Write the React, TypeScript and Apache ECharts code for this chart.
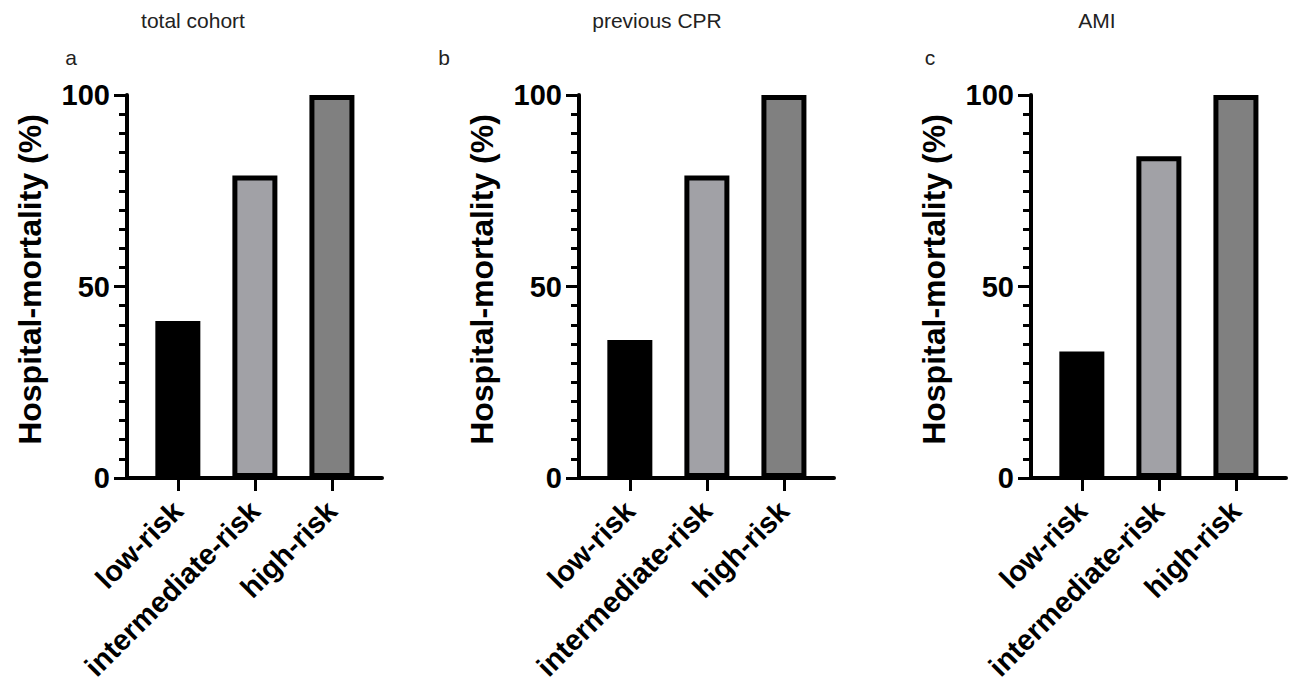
import React, { useEffect, useRef } from "react";
import * as echarts from "echarts";

const categories = ["low-risk", "intermediate-risk", "high-risk"];
const panelTitles = ["total cohort", "previous CPR", "AMI"];
const panelLetters = ["a", "b", "c"];
const totalCohort = [41, 79, 100];
const previousCPR = [36, 79, 100];
const ami = [33, 84, 100];
const yTickValues = [0, 50, 100];
const barColors = ["#000000", "#a1a1a6", "#808080"];
const yAxisTitle = "Hospital-mortality (%)";

const panelValues = [totalCohort, previousCPR, ami];

export default function App() {
  const ref = useRef<HTMLDivElement>(null);

  useEffect(() => {
    if (!ref.current) return;
    const chart = echarts.init(ref.current, undefined, { renderer: "svg" });
    const font = "Liberation Sans, Arial, Helvetica, sans-serif";
    const axisLeft = [127, 579, 1031];
    const titleX = [193, 657, 1097];
    const letterX = [71, 444, 930];

    const grids = panelValues.map((_, i) => ({
      left: axisLeft[i],
      top: 95,
      width: 255,
      height: 383,
      containLabel: false,
      outerBoundsMode: "none",
    }));

    const xAxes = panelValues.map((_, i) => ({
      type: "value",
      gridIndex: i,
      min: 0.34,
      max: 3.65,
      axisLine: { show: true, onZero: false, lineStyle: { color: "#000", width: 4 } },
      axisTick: {
        show: true,
        customValues: categories.map((_, k) => k + 1),
        length: 13,
        lineStyle: { color: "#000", width: 3 },
      },
      axisLabel: {
        show: true,
        customValues: categories.map((_, k) => k + 1),
        formatter: (v: number) => categories[Math.round(v) - 1] ?? "",
        rotate: 45,
        margin: 28,
        color: "#000",
        fontFamily: font,
        fontWeight: "bold",
        fontSize: 29,
      },
      splitLine: { show: false },
    }));

    const yAxes = panelValues.map((_, i) => ({
      type: "value",
      gridIndex: i,
      min: yTickValues[0],
      max: yTickValues[yTickValues.length - 1],
      interval: yTickValues[1] - yTickValues[0],
      name: yAxisTitle,
      nameLocation: "middle",
      nameRotate: 90,
      nameGap: 81,
      nameTextStyle: {
        color: "#000",
        fontFamily: font,
        fontWeight: "bold",
        fontSize: 32,
        padding: [0, 0, 0, 14],
      },
      axisLine: { show: true, lineStyle: { color: "#000", width: 4 } },
      axisTick: { show: true, length: 13, lineStyle: { color: "#000", width: 3 } },
      minorTick: { show: true, splitNumber: 10, length: 8, lineStyle: { color: "#000", width: 3 } },
      axisLabel: {
        show: true,
        margin: 17,
        color: "#000",
        fontFamily: font,
        fontWeight: "bold",
        fontSize: 29,
      },
      splitLine: { show: false },
      minorSplitLine: { show: false },
    }));

    const series = panelValues.map((vals, i) => ({
      type: "bar",
      xAxisIndex: i,
      yAxisIndex: i,
      barWidth: 45,
      data: vals.map((v, k) => ({
        value: [k + 1, v],
        itemStyle: { color: barColors[k], borderColor: "#000", borderWidth: 5 },
      })),
    }));

    const graphics: any[] = [];
    panelTitles.forEach((t, i) => {
      graphics.push({
        type: "text",
        x: titleX[i],
        y: 20.5,
        style: {
          text: t,
          fill: "#222",
          font: `21px ${font}`,
          textAlign: "center",
          textVerticalAlign: "middle",
        },
      });
      graphics.push({
        type: "text",
        x: letterX[i],
        y: 57.5,
        style: {
          text: panelLetters[i],
          fill: "#222",
          font: `21px ${font}`,
          textAlign: "center",
          textVerticalAlign: "middle",
        },
      });
    });

    chart.setOption({
      animation: false,
      backgroundColor: "#fff",
      grid: grids,
      xAxis: xAxes,
      yAxis: yAxes,
      series,
      graphic: graphics,
      tooltip: { show: false },
    } as any);

    return () => {
      chart.dispose();
    };
  }, []);

  return (
    <div
      ref={ref}
      style={{ position: "absolute", left: 0, top: 0, width: 1291, height: 681 }}
    />
  );
}
